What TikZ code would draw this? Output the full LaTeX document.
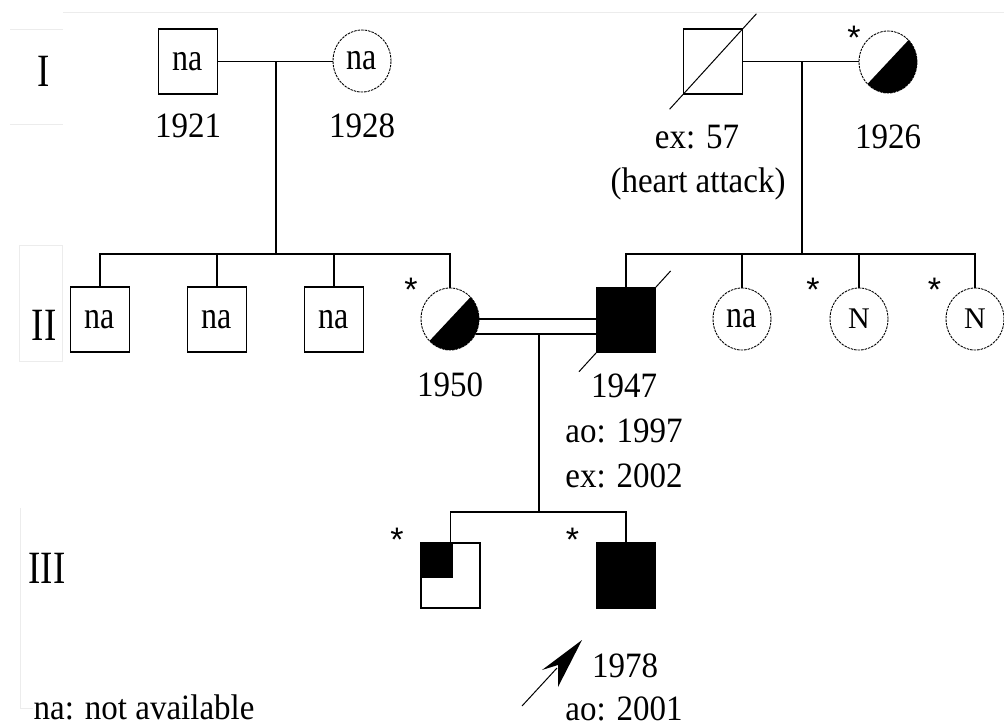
\documentclass[tikz,border=0pt]{standalone}
\usepackage{fontspec}
\usepackage{graphicx}
\setmainfont{Liberation Serif}
\newfontfamily\starfont{Liberation Sans}
\usetikzlibrary{shapes.geometric,arrows.meta,calc}
\newcommand{\vs}[2]{\scalebox{1}[#1]{#2}}
\begin{document}
\begin{tikzpicture}[x=1pt,y=-1pt,line width=1.3pt,
  male/.style={draw, rectangle, minimum width=59pt, minimum height=65pt, inner sep=0pt,
    font=\fontsize{32}{36}\selectfont},
  female/.style={draw, ellipse, dash pattern=on 2.5pt off 1pt, line width=0.9pt,
    minimum width=58pt, minimum height=62pt, inner sep=0pt, font=\fontsize{32}{36}\selectfont},
  affected/.style={fill=black},
  carrier/.style={path picture={\fill[black] (path picture bounding box.north east) --
    (path picture bounding box.south west) -- (path picture bounding box.south east) -- cycle;}},
  quadfill/.style={path picture={\fill[black] (path picture bounding box.north west) rectangle
    ([xshift=2pt,yshift=-2pt]path picture bounding box.center);}},
  lbl/.style={font=\fontsize{33}{36}\selectfont, inner sep=0pt, anchor=base},
  gen/.style={font=\fontsize{37}{40}\selectfont, inner sep=0pt, anchor=base},
  star/.style={font=\starfont\fontsize{34}{36}\selectfont, inner sep=0pt, anchor=north},
  artifact/.style={draw=gray!15, line width=0.7pt}
]
\useasboundingbox (0,0) rectangle (1004,726);

% faint screenshot edges
\draw[artifact] (63,12) -- (1004,12);
\draw[artifact] (10,29) -- (63,29);
\draw[artifact] (10,124) -- (63,124);
\draw[artifact] (19,245) rectangle (62,361);
\draw[artifact] (20,508) -- (20,708) -- (33,708);

% generation labels
\node[gen] (gI) at (43.5,86) {\vs{1.25}{I}};
\node[gen] (gII) at (44,340) {\vs{1.25}{II}};
\node[gen] (gIII) at (47,583) {\vs{1.25}{III}};

% Generation I
\node[male] (I1) at (188,61.5) {\vs{1.2}{na}};
\node[female] (I2) at (362,61) {\vs{1.2}{na}};
\node[male] (I3) at (713,61.5) {};
\node[female, carrier] (I4) at (888,62) {};
\draw[line width=1pt] ($(I3.south west)!-0.22!(I3.north east)$) -- ($(I3.south west)!1.22!(I3.north east)$);

\node[lbl] (t1921) at (188,137) {\vs{1.08}{1921}};
\node[lbl] (t1928) at (362,137) {\vs{1.08}{1928}};
\node[lbl] (tex57) at (697,148) {\vs{1.08}{ex: 57}};
\node[lbl] (theart) at (698,192) {\vs{1.08}{(heart attack)}};
\node[lbl] (t1926) at (888,148) {\vs{1.08}{1926}};
\node[star] (sI4) at (854,25) {*};

\coordinate (c1) at (276,62);
\coordinate (c2) at (802,62);
\coordinate (sib1) at (276,254);
\coordinate (sib2) at (802,254);
\draw (I1.east) -- (I1.east -| I2.west);
\draw (I3.east) -- (I3.east -| I4.west);
\draw (c1) -- (sib1);
\draw (c2) -- (sib2);

% Generation II
\node[male] (II1) at (100,319.5) {\vs{1.2}{na}};
\node[male] (II2) at (217,319.5) {\vs{1.2}{na}};
\node[male] (II3) at (334,319.5) {\vs{1.2}{na}};
\node[female, carrier] (II4) at (450,319) {};
\node[male, affected] (II5) at (626,320) {};
\node[female] (II6) at (742,319) {\vs{1.2}{na}};
\node[female, font=\fontsize{30}{34}\selectfont] (II7) at (859,319) {N};
\node[female, font=\fontsize{30}{34}\selectfont] (II8) at (975,319) {N};
\draw[line width=1pt] ($(II5.south west)!-0.28!(II5.north east)$) -- ($(II5.south west)!1.24!(II5.north east)$);

\node[star] (sII4) at (411,277) {*};
\node[star] (sII7) at (813,277) {*};
\node[star] (sII8) at (934.5,277) {*};

\draw (II1.north) -- (II1.north |- sib1) -- (II4.north |- sib1) -- (II4.north);
\draw (II2.north) -- (II2.north |- sib1);
\draw (II3.north) -- (II3.north |- sib1);
\draw (II5.north) -- (II5.north |- sib2) -- (II8.north |- sib2) -- (II8.north);
\draw (II6.north) -- (II6.north |- sib2);
\draw (II7.north) -- (II7.north |- sib2);

% consanguineous marriage
\draw (II4.east) -- (II4.east -| II5.west);
\draw (II4.-30) -- (II4.-30 -| II5.west);
\coordinate (cm) at (539,333.5);
\coordinate (sib3) at (539,512);
\draw (cm) -- (sib3);

\node[lbl] (t1950) at (450,396) {\vs{1.08}{1950}};
\node[lbl] (t1947) at (624,397) {\vs{1.08}{1947}};
\node[lbl] (tao1997) at (624,442) {\vs{1.08}{ao: 1997}};
\node[lbl] (tex2002) at (624,487) {\vs{1.08}{ex: 2002}};

% Generation III
\node[male, quadfill] (III1) at (450.5,575.5) {};
\node[male, affected] (III2) at (626,575.5) {};
\draw (III1.north) -- (III1.north |- sib3) -- (III2.north |- sib3) -- (III2.north);
\node[star] (sIII1) at (397,527) {*};
\node[star] (sIII2) at (572.5,527) {*};

% proband arrow
\coordinate (ptail) at (522,706);
\coordinate (ptip) at (582,640);
\coordinate (pneck) at (557,668);
\coordinate (pw1) at (542,670);
\coordinate (pnotch) at (558,665);
\coordinate (pw2) at (558,687);
\draw[line width=1pt] (ptail) -- (pneck);
\fill[black] (ptip) -- (pw1) -- (pnotch) -- (pw2) -- cycle;

\node[lbl] (t1978) at (625,677) {\vs{1.08}{1978}};
\node[lbl] (tao2001) at (624,720) {\vs{1.08}{ao: 2001}};
\node[lbl, anchor=base west] (legend) at (33,719) {\vs{1.08}{na: not available}};
\end{tikzpicture}
\end{document}
